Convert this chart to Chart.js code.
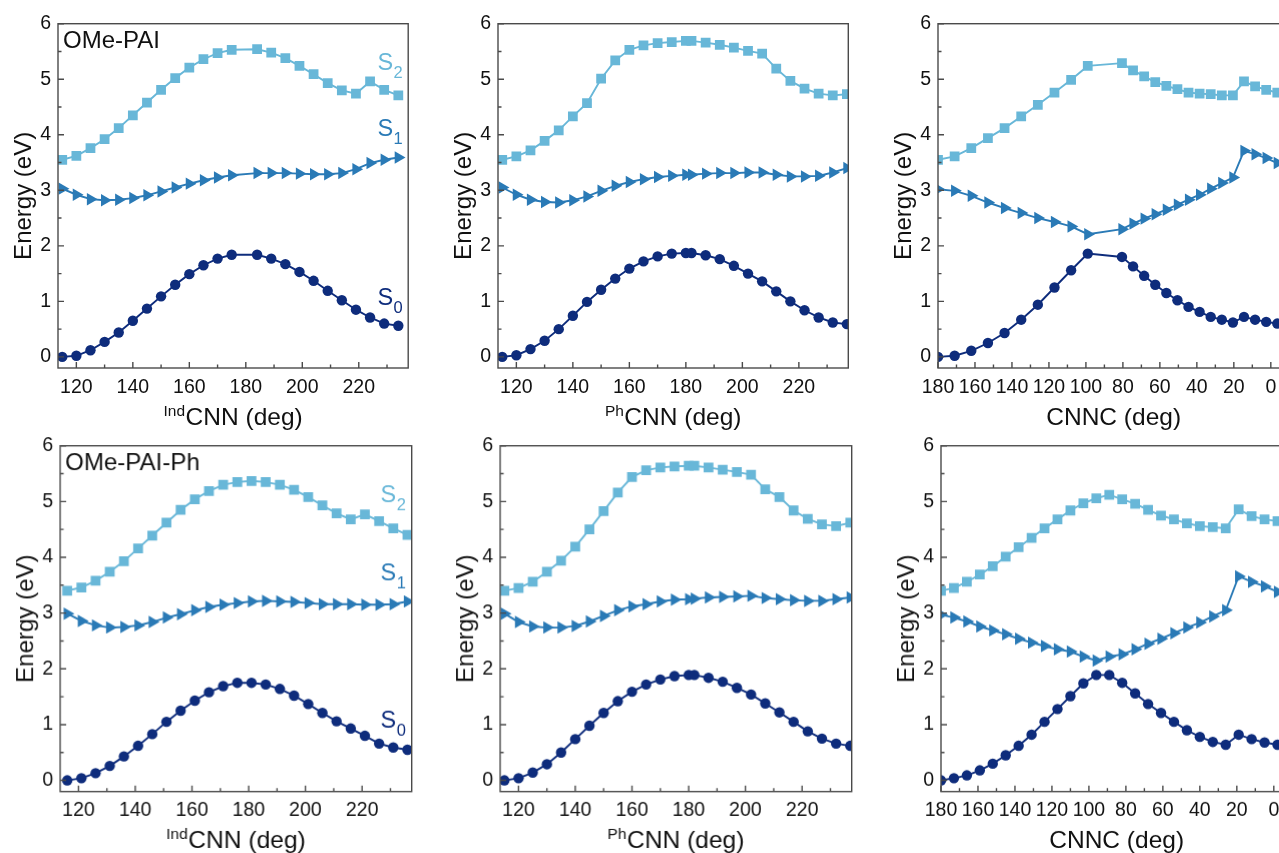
<!DOCTYPE html>
<html><head><meta charset="utf-8">
<script src="https://cdn.jsdelivr.net/npm/chart.js@4.4.1/dist/chart.umd.min.js"></script>
<style>
html,body{margin:0;padding:0;background:#fff;overflow:hidden;width:1279px;height:853px;position:relative;}
.panel{position:absolute;}
</style></head><body>
<script>
// ---------- data ----------
const energyTicks = [0,1,2,3,4,5,6];
const energyMinor = [0.5,1.5,2.5,3.5,4.5,5.5];
const cnnMajor = [120,140,160,180,200,220];
const cnnMinor = [130,150,170,190,210,230];
const cnncMajor = [180,160,140,120,100,80,60,40,20,0];
const cnncMinor = [170,150,130,110,90,70,50,30,10];

// OMe-PAI, IndCNN scan
const p1X  = [115,120,125,130,135,140,145,150,155,160,165,170,175,184,189,194,199,204,209,214,219,224,229,234];
const p1S0 = [0.00,0.02,0.12,0.27,0.44,0.65,0.87,1.09,1.30,1.49,1.65,1.77,1.84,1.84,1.77,1.67,1.53,1.37,1.19,1.02,0.85,0.71,0.60,0.56];
const p1S1 = [3.03,2.92,2.84,2.82,2.83,2.86,2.91,2.98,3.05,3.12,3.18,3.23,3.27,3.31,3.31,3.31,3.30,3.29,3.29,3.31,3.38,3.49,3.55,3.59];
const p1S2 = [3.55,3.62,3.76,3.92,4.12,4.35,4.58,4.81,5.02,5.21,5.36,5.47,5.53,5.54,5.48,5.38,5.24,5.09,4.93,4.80,4.74,4.96,4.81,4.71];

// OMe-PAI, PhCNN scan
const p2X  = [115,120,125,130,135,140,145,150,155,160,165,170,175,180,182,187,192,197,202,207,212,217,222,227,232,237];
const p2S0 = [0.00,0.03,0.14,0.29,0.50,0.74,0.99,1.21,1.41,1.59,1.72,1.81,1.86,1.87,1.87,1.83,1.76,1.64,1.50,1.36,1.18,1.00,0.84,0.71,0.62,0.59];
const p2S1 = [3.05,2.92,2.83,2.79,2.78,2.82,2.89,2.99,3.08,3.15,3.20,3.24,3.26,3.28,3.28,3.30,3.31,3.31,3.32,3.32,3.28,3.25,3.25,3.26,3.32,3.40];
const p2S2 = [3.55,3.61,3.72,3.89,4.08,4.33,4.57,5.01,5.34,5.53,5.61,5.65,5.67,5.69,5.69,5.66,5.62,5.57,5.51,5.46,5.19,4.97,4.83,4.74,4.71,4.73];

// OMe-PAI, CNNC scan
const p3X  = [180,171,162,153,144,135,126,117,108,99,80.5,74.5,68.5,62.5,56.5,50.5,44.5,38.5,32.5,26.5,20.5,14.5,8.5,2.5,-3.5];
const p3S0 = [0.00,0.02,0.11,0.25,0.43,0.67,0.94,1.25,1.56,1.86,1.80,1.63,1.46,1.30,1.15,1.02,0.90,0.81,0.72,0.67,0.62,0.72,0.67,0.63,0.60];
const p3S1 = [3.02,2.99,2.90,2.78,2.68,2.59,2.50,2.43,2.35,2.21,2.30,2.40,2.49,2.57,2.65,2.74,2.83,2.92,3.03,3.13,3.23,3.71,3.65,3.58,3.49];
const p3S2 = [3.55,3.61,3.76,3.94,4.12,4.33,4.54,4.76,4.99,5.24,5.29,5.16,5.05,4.95,4.88,4.82,4.76,4.74,4.73,4.71,4.71,4.96,4.87,4.81,4.76];

// OMe-PAI-Ph, IndCNN scan
const p4X  = [116,121,126,131,136,141,146,151,156,161,166,171,176,181,186,191,196,201,206,211,216,221,226,231,236];
const p4S0 = [0.00,0.04,0.13,0.26,0.43,0.62,0.83,1.05,1.25,1.43,1.58,1.69,1.75,1.75,1.72,1.64,1.52,1.37,1.21,1.06,0.93,0.80,0.66,0.59,0.55];
const p4S1 = [2.99,2.86,2.78,2.74,2.75,2.78,2.84,2.92,2.98,3.05,3.11,3.15,3.18,3.21,3.22,3.21,3.20,3.18,3.16,3.16,3.16,3.15,3.15,3.16,3.21];
const p4S2 = [3.40,3.46,3.58,3.74,3.93,4.16,4.39,4.62,4.85,5.04,5.19,5.30,5.35,5.37,5.35,5.30,5.21,5.08,4.93,4.79,4.68,4.77,4.65,4.52,4.40];

// OMe-PAI-Ph, PhCNN scan
const p5X  = [115,120,125,130,135,140,145,150,155,160,165,170,175,180,182,187,192,197,202,207,212,217,222,227,232,237];
const p5S0 = [0.00,0.04,0.14,0.29,0.50,0.74,0.98,1.21,1.42,1.59,1.72,1.81,1.87,1.89,1.89,1.84,1.77,1.66,1.54,1.38,1.22,1.05,0.88,0.75,0.66,0.62];
const p5S1 = [2.99,2.84,2.76,2.74,2.74,2.77,2.85,2.95,3.05,3.12,3.16,3.21,3.24,3.25,3.26,3.28,3.29,3.30,3.31,3.27,3.25,3.23,3.22,3.22,3.25,3.28];
const p5S2 = [3.40,3.45,3.56,3.74,3.94,4.19,4.50,4.83,5.16,5.44,5.56,5.61,5.63,5.64,5.64,5.61,5.57,5.53,5.48,5.22,5.08,4.84,4.69,4.59,4.56,4.62];

// OMe-PAI-Ph, CNNC scan
const p6X  = [180,173,166,159,152,145,138,131,124,117,110,103,96,89,82,75,68,61,54,47,40,33,26,19,12,5,-2];
const p6S0 = [0.00,0.04,0.09,0.18,0.30,0.45,0.62,0.82,1.05,1.28,1.51,1.74,1.89,1.89,1.75,1.56,1.37,1.21,1.05,0.90,0.78,0.69,0.64,0.82,0.74,0.68,0.64];
const p6S1 = [2.97,2.92,2.85,2.76,2.69,2.62,2.54,2.47,2.41,2.35,2.31,2.22,2.15,2.22,2.26,2.35,2.45,2.54,2.64,2.74,2.83,2.94,3.05,3.66,3.56,3.48,3.38];
const p6S2 = [3.40,3.45,3.56,3.69,3.84,4.01,4.18,4.35,4.52,4.68,4.84,4.97,5.06,5.12,5.04,4.96,4.85,4.75,4.68,4.61,4.56,4.54,4.52,4.86,4.74,4.68,4.65];

// ---------- styles / layout ----------
const C0 = '#0e2c7c', C1 = '#2a7ab6', C2 = '#68b7d8';
const AXIS = '#4a4a4a';
const FONT = '"Liberation Sans", Arial, Helvetica, sans-serif';
const PAD_L = 56, PAD_T = 12, PAD_R = 12, PAD_B = 72;

const panels = [
  {box:[57.5,17.3,407.7,368.3], x:p1X, s:[p1S0,p1S1,p1S2], xr:[113.5,237.5], rev:false, major:cnnMajor, minor:cnnMinor, sup:'Ind', title:'CNN (deg)', name:'OMe-PAI', lab:{x:226.6, y:[0.94,3.98,5.17]}},
  {box:[498,17.3,848.3,368.3], x:p2X, s:[p2S0,p2S1,p2S2], xr:[113.5,237.5], rev:false, major:cnnMajor, minor:cnnMinor, sup:'Ph', title:'CNN (deg)'},
  {box:[937.7,17.3,1289,368.3], x:p3X, s:[p3S0,p3S1,p3S2], xr:[-10,180], rev:true, major:cnncMajor, minor:cnncMinor, sup:'', title:'CNNC (deg)'},
  {box:[60,439,410.7,790.7], x:p4X, s:[p4S0,p4S1,p4S2], xr:[113.5,237.5], rev:false, major:cnnMajor, minor:cnnMinor, sup:'Ind', title:'CNN (deg)', name:'OMe-PAI-Ph', lab:{x:226.5, y:[0.94,3.58,4.98]}},
  {box:[500,439,850.7,790.7], x:p5X, s:[p5S0,p5S1,p5S2], xr:[113.5,237.5], rev:false, major:cnnMajor, minor:cnnMinor, sup:'Ph', title:'CNN (deg)'},
  {box:[940.7,439,1292,790.7], x:p6X, s:[p6S0,p6S1,p6S2], xr:[-10,180], rev:true, major:cnncMajor, minor:cnncMinor, sup:'', title:'CNNC (deg)'}
];

function makeDecor(p){
  return {
    id:'decor',
    afterDraw(chart){
      const {ctx, chartArea:a, scales:{x, y}} = chart;
      ctx.save();
      // frame
      ctx.strokeStyle = AXIS; ctx.lineWidth = 1.4;
      ctx.strokeRect(a.left, a.top, a.right - a.left, a.bottom - a.top);
      // inward ticks
      ctx.beginPath();
      for (const v of p.major){ const px = x.getPixelForValue(v); ctx.moveTo(px, a.bottom); ctx.lineTo(px, a.bottom - 6); }
      for (const v of p.minor){ const px = x.getPixelForValue(v); ctx.moveTo(px, a.bottom); ctx.lineTo(px, a.bottom - 3.5); }
      for (const v of energyTicks){ const py = y.getPixelForValue(v); ctx.moveTo(a.left, py); ctx.lineTo(a.left + 6, py); }
      for (const v of energyMinor){ const py = y.getPixelForValue(v); ctx.moveTo(a.left, py); ctx.lineTo(a.left + 3.5, py); }
      ctx.stroke();
      // x title with superscript
      ctx.fillStyle = '#111';
      ctx.textBaseline = 'alphabetic';
      ctx.textAlign = 'left';
      const mainF = '24.5px ' + FONT, supF = '15.5px ' + FONT;
      ctx.font = supF; const ws = p.sup ? ctx.measureText(p.sup).width + 0.5 : 0;
      ctx.font = mainF; const wm = ctx.measureText(p.title).width;
      const cx = (a.left + a.right) / 2, by = a.bottom + 56.7;
      let sx = cx - (ws + wm) / 2;
      if (p.sup){ ctx.font = supF; ctx.fillText(p.sup, sx, by - 9); }
      ctx.font = mainF; ctx.fillText(p.title, sx + ws, by);
      // y title
      ctx.save();
      ctx.translate(a.left - 27, (a.top + a.bottom) / 2);
      ctx.rotate(-Math.PI / 2);
      ctx.textAlign = 'center';
      ctx.font = '24px ' + FONT;
      ctx.fillText('Energy (eV)', 0, 0);
      ctx.restore();
      // panel name
      if (p.name){
        ctx.font = '24px ' + FONT; ctx.fillStyle = '#111'; ctx.textAlign = 'left';
        ctx.fillText(p.name, a.left + 5, a.top + 24.4);
      }
      // state labels
      if (p.lab){
        const cols = [C0, C1, C2];
        const lx = x.getPixelForValue(p.lab.x);
        for (let i = 0; i < 3; i++){
          const ly = y.getPixelForValue(p.lab.y[i]);
          ctx.fillStyle = cols[i];
          ctx.font = '23.5px ' + FONT;
          ctx.fillText('S', lx, ly);
          const w = ctx.measureText('S').width;
          ctx.font = '16.5px ' + FONT;
          ctx.fillText(String(i), lx + w + 0.5, ly + 8);
        }
      }
      ctx.restore();
    }
  };
}

panels.forEach((p, idx) => {
  const [L, T, R, B] = p.box;
  const div = document.createElement('div');
  div.className = 'panel';
  div.style.left = (L - PAD_L) + 'px';
  div.style.top = (T - PAD_T) + 'px';
  div.style.width = (R - L + PAD_L + PAD_R) + 'px';
  div.style.height = (B - T + PAD_T + PAD_B) + 'px';
  const cv = document.createElement('canvas');
  div.appendChild(cv);
  document.body.appendChild(div);

  const mk = (arr) => p.x.map((v, i) => ({x: v, y: arr[i]}));
  new Chart(cv, {
    type: 'line',
    data: {
      datasets: [
        {label:'S2', data: mk(p.s[2]), borderColor:C2, backgroundColor:C2, pointBackgroundColor:C2, pointStyle:'rect', pointRadius:6.9, pointBorderWidth:0, borderWidth:1.9, tension:0},
        {label:'S1', data: mk(p.s[1]), borderColor:C1, backgroundColor:C1, pointBackgroundColor:C1, pointStyle:'triangle', pointRotation:90, pointRadius:7.2, pointBorderWidth:0, borderWidth:1.9, tension:0},
        {label:'S0', data: mk(p.s[0]), borderColor:C0, backgroundColor:C0, pointBackgroundColor:C0, pointStyle:'circle', pointRadius:5.2, pointBorderWidth:0, borderWidth:1.9, tension:0}
      ]
    },
    options: {
      responsive: true, maintainAspectRatio: false, animation: false, events: [],
      layout: {padding: {top: PAD_T, right: PAD_R, left: 0, bottom: 0}},
      plugins: {legend: {display: false}, tooltip: {enabled: false}},
      scales: {
        x: {
          type: 'linear', min: p.xr[0], max: p.xr[1], reverse: p.rev,
          grid: {display: false, drawTicks: false}, border: {display: false},
          afterBuildTicks: s => { s.ticks = p.major.map(v => ({value: v})); },
          afterFit: s => { s.height = PAD_B; },
          ticks: {autoSkip: false, maxRotation: 0, minRotation: 0, padding: 7.5, color: '#111', font: {family: FONT, size: 19.5}}
        },
        y: {
          type: 'linear', min: -0.2, max: 6,
          grid: {display: false, drawTicks: false}, border: {display: false},
          afterBuildTicks: s => { s.ticks = energyTicks.map(v => ({value: v})); },
          afterFit: s => { s.width = PAD_L; },
          ticks: {padding: 7, color: '#111', font: {family: FONT, size: 19.5}}
        }
      }
    },
    plugins: [makeDecor(p)]
  });
});
</script>
</body></html>
